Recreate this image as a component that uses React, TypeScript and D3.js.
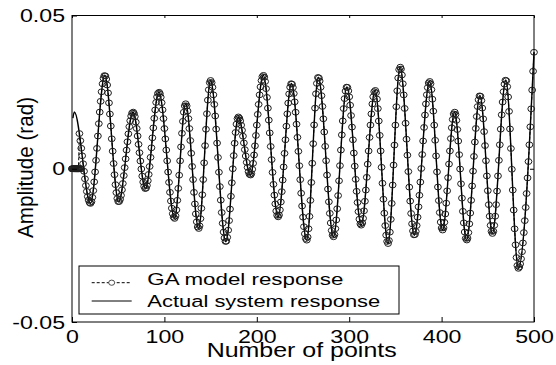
import React, { useEffect, useRef } from "react";
import * as d3 from "d3";

// actual system response: turning points
const extremaX = [1, 2.5, 20, 35.5, 50.5, 66, 79.5, 94, 111, 123, 137, 150, 166.5, 180, 193, 207, 223, 237.5, 254, 266.5, 283, 297.5, 313, 328, 342, 355, 370.5, 387, 401, 414, 427, 441.5, 455, 469.5, 483, 500];
const extremaY = [0.0165, 0.0185, -0.0113, 0.0305, -0.0108, 0.0185, -0.0065, 0.025, -0.0162, 0.0212, -0.0195, 0.0288, -0.0238, 0.0169, -0.0021, 0.0305, -0.0157, 0.0278, -0.0233, 0.0299, -0.0222, 0.0267, -0.0184, 0.0256, -0.0244, 0.0332, -0.0217, 0.0285, -0.02, 0.0185, -0.0233, 0.0239, -0.0211, 0.029, -0.0325, 0.038];

// GA model: flat at zero first, then it tracks the actual response
const gaStartX = [0, 1, 2, 3, 4, 5, 6, 7, 8, 9, 10];
const gaStartY = [0, 0, 0, 0, 0, 0, 0, 0, 0, 0, 0];
const gaJoinX = 8;
const gaEndX = 500;

const xTicks = [0, 100, 200, 300, 400, 500];
const yTicks = [-0.05, 0, 0.05];
const legendLabels = ["GA model response", "Actual system response"];

const FONT = "'Liberation Sans', Arial, sans-serif";

export default function App() {
  const svgRef = useRef<SVGSVGElement>(null);

  useEffect(() => {
    const svg = d3.select(svgRef.current);
    svg.selectAll("*").remove();

    const x = d3.scaleLinear().domain([0, 500]).range([72, 534]);
    const y = d3.scaleLinear().domain([-0.05, 0.05]).range([322, 15.5]);

    // frame
    svg.append("rect")
      .attr("x", 72).attr("y", 15.5)
      .attr("width", 462).attr("height", 306.5)
      .attr("fill", "white").attr("stroke", "black").attr("stroke-width", 1);

    const plot = svg.append("g");

    const actualLine = d3.line<number>()
      .x((d) => x(extremaX[d]))
      .y((d) => y(extremaY[d]))
      .curve(d3.curveMonotoneX);

    const actualPath = plot.append("path")
      .attr("d", actualLine(extremaX.map((_, i) => i)))
      .attr("fill", "none")
      .attr("stroke", "black")
      .attr("stroke-width", 1.4);

    // GA markers sit on every point of the response
    const node = actualPath.node() as SVGPathElement;
    const total = node.getTotalLength();
    const zeroPts: [number, number][] = gaStartX.map((v, i) => [x(v), y(gaStartY[i])]);
    const gaPts: [number, number][] = zeroPts.filter((_, i) => gaStartX[i] < gaJoinX);
    let len = 0;
    for (let t = gaJoinX; t <= gaEndX; t++) {
      const tx = x(t);
      let p = node.getPointAtLength(len);
      while (p.x < tx && len < total) {
        len += 0.4;
        p = node.getPointAtLength(len);
      }
      gaPts.push([p.x, p.y]);
    }

    plot.insert("path", ":first-child")
      .attr("d", d3.line()(gaPts))
      .attr("fill", "none")
      .attr("stroke", "black")
      .attr("stroke-width", 1)
      .attr("stroke-dasharray", "3,2");

    plot.append("g")
      .selectAll("ellipse")
      .data(gaPts.concat(zeroPts))
      .enter()
      .append("ellipse")
      .attr("cx", (d) => d[0])
      .attr("cy", (d) => d[1])
      .attr("rx", 3.4)
      .attr("ry", 2.9)
      .attr("fill", "none")
      .attr("stroke", "#1e1e1e")
      .attr("stroke-width", 1);

    // axes, ticks pointing inwards
    const styleAxis = (g: any) => {
      g.select(".domain").remove();
      g.selectAll(".tick line").attr("stroke", "black");
      g.selectAll(".tick text")
        .attr("fill", "black")
        .style("font-family", FONT)
        .style("font-size", "19px");
    };

    svg.append("g")
      .attr("transform", "translate(0,322)")
      .call(d3.axisBottom(x).tickValues(xTicks).tickSizeInner(-5).tickSizeOuter(0).tickPadding(7.5).tickFormat(d3.format("d")) as any)
      .call(styleAxis)
      .selectAll(".tick text")
      .attr("transform", "scale(1.22,1)");

    svg.append("g")
      .attr("transform", "translate(0,15.5)")
      .call(d3.axisTop(x).tickValues(xTicks).tickSizeInner(-2.5).tickSizeOuter(0).tickFormat(() => "") as any)
      .call(styleAxis);

    svg.append("g")
      .attr("transform", "translate(72,0)")
      .call(d3.axisLeft(y).tickValues(yTicks).tickSizeInner(-5).tickSizeOuter(0).tickPadding(5.7)
        .tickFormat((d: any) => (d === 0 ? "0" : (+d).toFixed(2))) as any)
      .call(styleAxis)
      .selectAll(".tick text")
      .attr("transform", "scale(1.22,1)");

    svg.append("g")
      .attr("transform", "translate(534,0)")
      .call(d3.axisRight(y).tickValues([0]).tickSizeInner(-4).tickSizeOuter(0).tickFormat(() => "") as any)
      .call(styleAxis);

    // axis titles
    svg.append("text")
      .attr("x", 301.7).attr("y", 357)
      .attr("text-anchor", "middle")
      .attr("textLength", 190).attr("lengthAdjust", "spacingAndGlyphs")
      .style("font-family", FONT).style("font-size", "19.5px")
      .text("Number of points");

    svg.append("text")
      .attr("transform", "translate(33,167.5) rotate(-90) scale(1,1.2)")
      .attr("text-anchor", "middle")
      .attr("textLength", 141).attr("lengthAdjust", "spacingAndGlyphs")
      .style("font-family", FONT).style("font-size", "19px")
      .text("Amplitude (rad)");

    // legend
    const lg = svg.append("g");
    lg.append("rect")
      .attr("x", 79).attr("y", 266).attr("width", 320).attr("height", 48)
      .attr("fill", "white").attr("stroke", "black").attr("stroke-width", 1);
    lg.append("line")
      .attr("x1", 91.7).attr("x2", 131.7).attr("y1", 282.7).attr("y2", 282.7)
      .attr("stroke", "black").attr("stroke-dasharray", "3,2");
    lg.append("ellipse")
      .attr("cx", 111.7).attr("cy", 282.7).attr("rx", 3).attr("ry", 2.6)
      .attr("fill", "white").attr("stroke", "#3a3a3a").attr("stroke-width", 0.9);
    lg.append("line")
      .attr("x1", 91.7).attr("x2", 131.7).attr("y1", 301).attr("y2", 301)
      .attr("stroke", "black").attr("stroke-width", 1);
    const legendWidths = [196, 233];
    const legendBase = [285, 306.7];
    legendLabels.forEach((t, i) => {
      lg.append("text")
        .attr("x", 147.3).attr("y", legendBase[i])
        .attr("textLength", legendWidths[i]).attr("lengthAdjust", "spacingAndGlyphs")
        .style("font-family", FONT).style("font-size", "16.3px")
        .text(t);
    });
  }, []);

  return (
    <svg
      ref={svgRef}
      width={556}
      height={365}
      style={{ position: "absolute", left: 0, top: 0, background: "white" }}
    />
  );
}
